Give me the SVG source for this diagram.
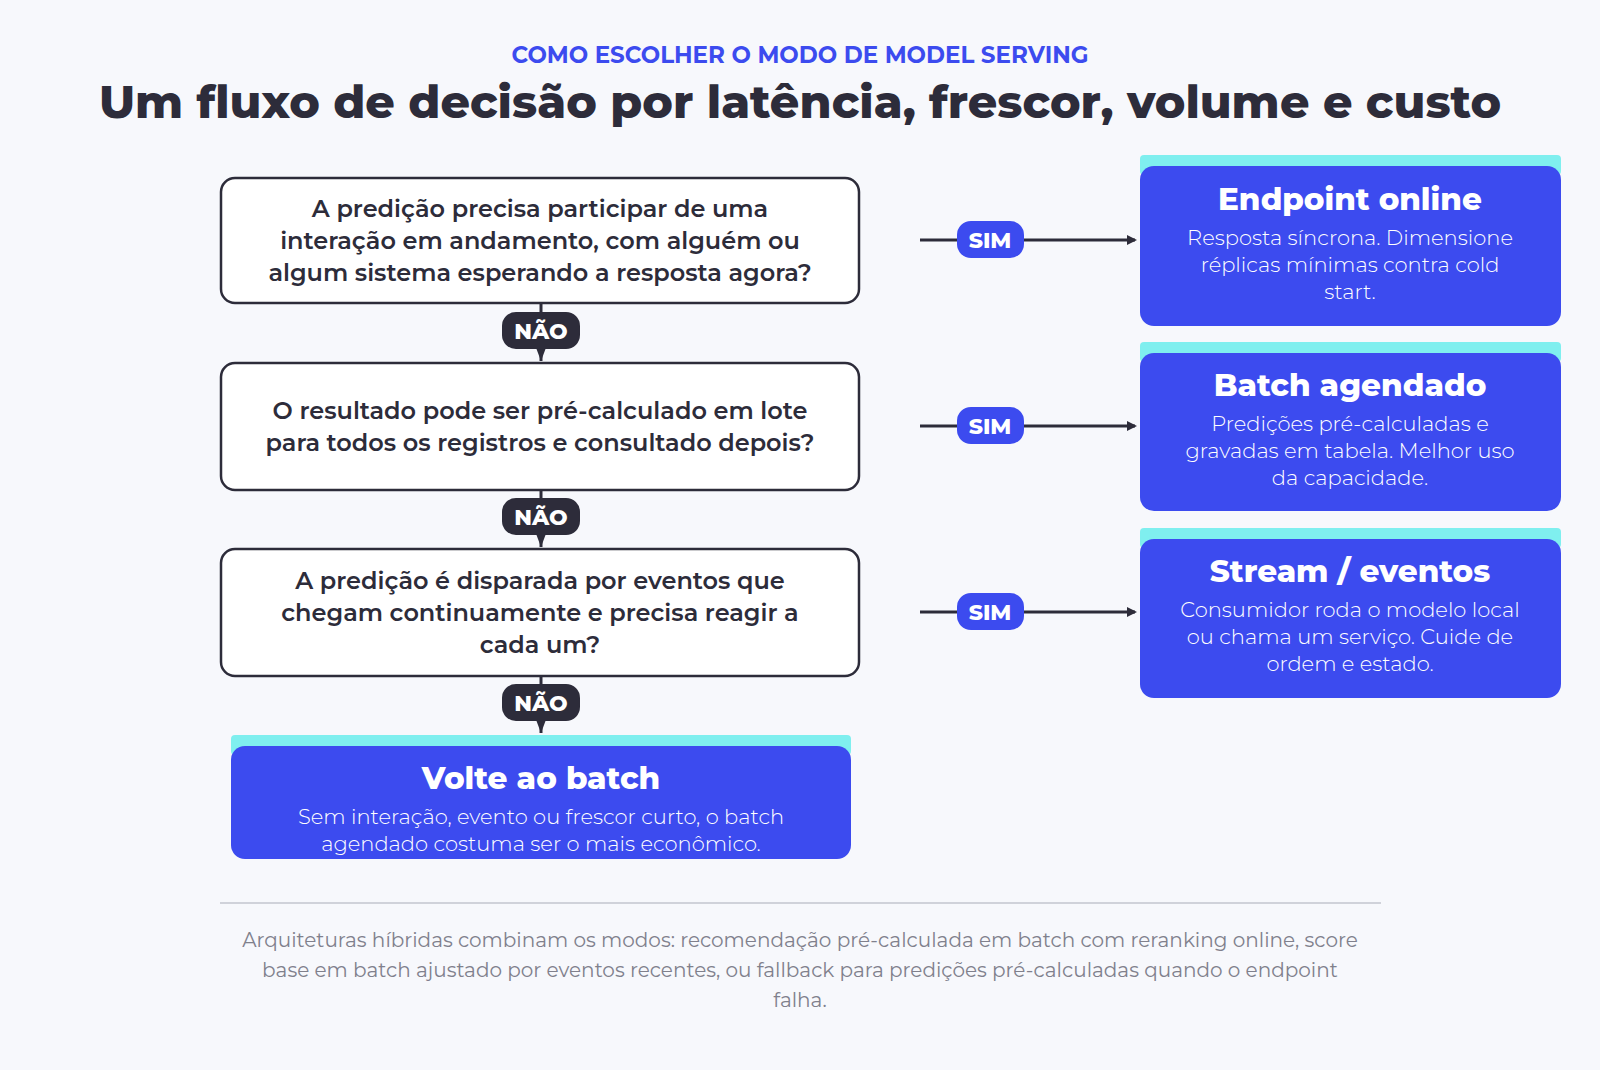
<svg xmlns="http://www.w3.org/2000/svg" width="1600" height="1070" viewBox="0 0 1600 1070">
<defs>
<style>
text{font-family:"Montserrat","Inter","Noto Sans",sans-serif;text-anchor:middle}
.q{fill:#fff;stroke:#2d2c3a;stroke-width:2.5}
.qt{font-size:24px;font-weight:600;fill:#2d2c3a}
.r{fill:#3c4bef}
.strip{fill:#7fefef}
.rt{font-size:31px;font-weight:800;fill:#fff}
.rb{font-size:21px;font-weight:300;fill:#fff}
.pd{fill:#2d2c3a}
.pb{fill:#3c4bef}
.pt{font-size:22px;font-weight:800;fill:#fff}
.ln{stroke:#2d2c3a;stroke-width:3;fill:none}
</style>
<marker id="ah" markerWidth="10" markerHeight="10" refX="8" refY="5" orient="auto" markerUnits="userSpaceOnUse"><path d="M0,0 L10,5 L0,10 Z" fill="#2d2c3a"/></marker>
<marker id="ad" markerWidth="20" markerHeight="12" refX="16" refY="6" orient="auto" markerUnits="userSpaceOnUse"><path d="M0,0 L16,6 L0,12 Z" fill="#2d2c3a"/></marker>
</defs>
<rect width="1600" height="1070" fill="#f7f8fc"/>
<text x="800" y="63" font-size="23" font-weight="700" fill="#3c4bef">COMO ESCOLHER O MODO DE MODEL SERVING</text>
<text x="800" y="118" font-size="46" font-weight="800" fill="#2d2c3a">Um fluxo de decisão por latência, frescor, volume e custo</text>

<g id="connectors">
<line class="ln" x1="541" y1="303" x2="541" y2="361" marker-end="url(#ad)"/>
<line class="ln" x1="541" y1="490" x2="541" y2="547" marker-end="url(#ad)"/>
<line class="ln" x1="541" y1="676" x2="541" y2="733" marker-end="url(#ad)"/>
<line class="ln" x1="920" y1="240" x2="1135" y2="240" marker-end="url(#ah)"/>
<line class="ln" x1="920" y1="426" x2="1135" y2="426" marker-end="url(#ah)"/>
<line class="ln" x1="920" y1="612" x2="1135" y2="612" marker-end="url(#ah)"/>
<rect class="pd" x="502" y="312" width="78" height="37" rx="14"/><text class="pt" x="541" y="339">NÃO</text>
<rect class="pd" x="502" y="498" width="78" height="37" rx="14"/><text class="pt" x="541" y="525">NÃO</text>
<rect class="pd" x="502" y="684" width="78" height="37" rx="14"/><text class="pt" x="541" y="711">NÃO</text>
<rect class="pb" x="957" y="221" width="67" height="37" rx="14"/><text class="pt" x="990" y="248">SIM</text>
<rect class="pb" x="957" y="407" width="67" height="37" rx="14"/><text class="pt" x="990" y="434">SIM</text>
<rect class="pb" x="957" y="593" width="67" height="37" rx="14"/><text class="pt" x="990" y="620">SIM</text>
</g>

<g id="q1"><rect class="q" x="221" y="178" width="638" height="125" rx="14"/>
<text class="qt" x="540" y="217">A predição precisa participar de uma</text>
<text class="qt" x="540" y="249">interação em andamento, com alguém ou</text>
<text class="qt" x="540" y="281">algum sistema esperando a resposta agora?</text></g>
<g id="q2"><rect class="q" x="221" y="363" width="638" height="127" rx="14"/>
<text class="qt" x="540" y="419">O resultado pode ser pré-calculado em lote</text>
<text class="qt" x="540" y="451">para todos os registros e consultado depois?</text></g>
<g id="q3"><rect class="q" x="221" y="549" width="638" height="127" rx="14"/>
<text class="qt" x="540" y="589">A predição é disparada por eventos que</text>
<text class="qt" x="540" y="621">chegam continuamente e precisa reagir a</text>
<text class="qt" x="540" y="653">cada um?</text></g>

<g id="r1"><rect class="strip" x="1140" y="155" width="421" height="20" rx="4"/><rect class="r" x="1140" y="166" width="421" height="160" rx="14"/>
<text class="rt" x="1350" y="210">Endpoint online</text>
<text class="rb" x="1350" y="245">Resposta síncrona. Dimensione</text>
<text class="rb" x="1350" y="272">réplicas mínimas contra cold</text>
<text class="rb" x="1350" y="299">start.</text></g>
<g id="r2"><rect class="strip" x="1140" y="342" width="421" height="20" rx="4"/><rect class="r" x="1140" y="353" width="421" height="158" rx="14"/>
<text class="rt" x="1350" y="396">Batch agendado</text>
<text class="rb" x="1350" y="431">Predições pré-calculadas e</text>
<text class="rb" x="1350" y="458">gravadas em tabela. Melhor uso</text>
<text class="rb" x="1350" y="485">da capacidade.</text></g>
<g id="r3"><rect class="strip" x="1140" y="528" width="421" height="20" rx="4"/><rect class="r" x="1140" y="539" width="421" height="159" rx="14"/>
<text class="rt" x="1350" y="582">Stream / eventos</text>
<text class="rb" x="1350" y="617">Consumidor roda o modelo local</text>
<text class="rb" x="1350" y="644">ou chama um serviço. Cuide de</text>
<text class="rb" x="1350" y="671">ordem e estado.</text></g>
<g id="r4"><rect class="strip" x="231" y="735" width="620" height="20" rx="4"/><rect class="r" x="231" y="746" width="620" height="113" rx="14"/>
<text class="rt" x="541" y="789">Volte ao batch</text>
<text class="rb" x="541" y="824">Sem interação, evento ou frescor curto, o batch</text>
<text class="rb" x="541" y="851">agendado costuma ser o mais econômico.</text></g>

<line x1="220" y1="903" x2="1381" y2="903" stroke="#d0d2da" stroke-width="2"/>
<g font-size="20" fill="#80808c">
<text x="800" y="947">Arquiteturas híbridas combinam os modos: recomendação pré-calculada em batch com reranking online, score</text>
<text x="800" y="977">base em batch ajustado por eventos recentes, ou fallback para predições pré-calculadas quando o endpoint</text>
<text x="800" y="1007">falha.</text></g>
</svg>
